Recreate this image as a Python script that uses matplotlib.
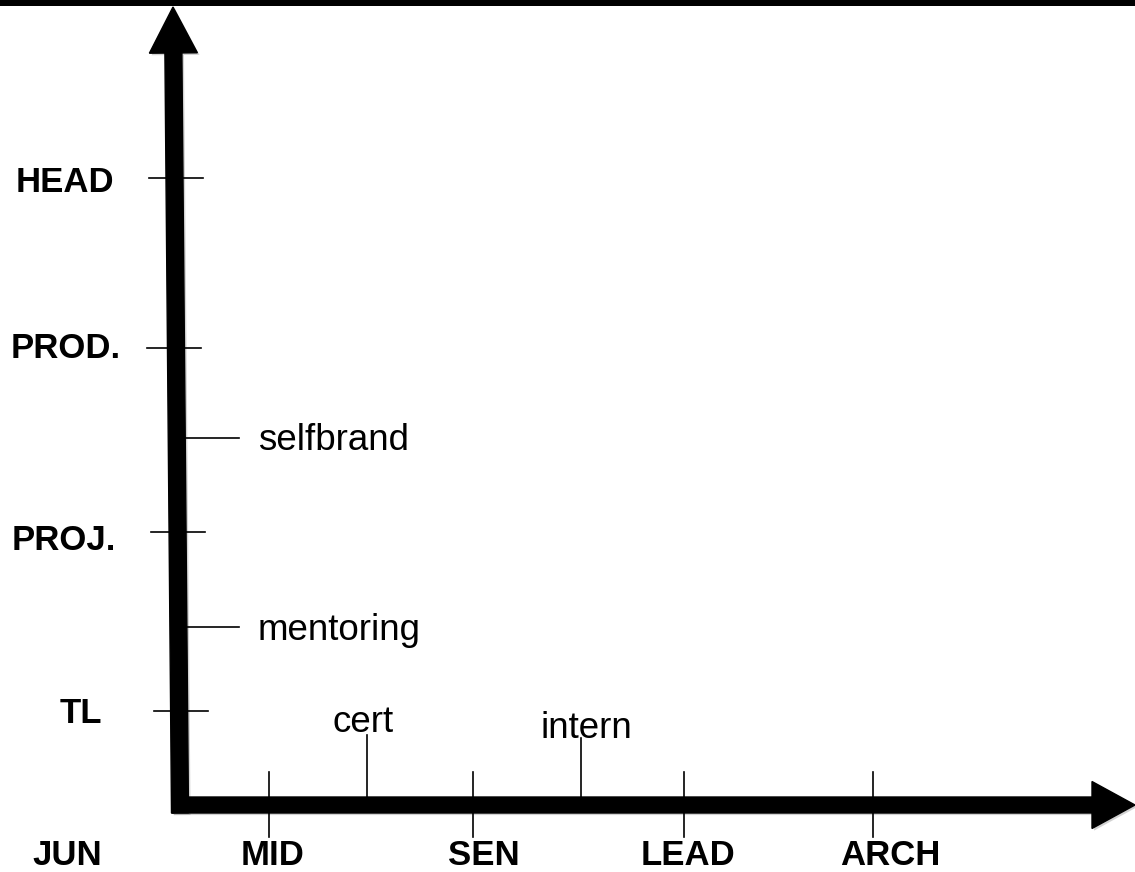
import matplotlib
matplotlib.use("Agg")
import matplotlib.pyplot as plt
import matplotlib.patheffects as pe

# career ladder: horizontal = seniority, vertical = management track
x_levels = ["JUN", "MID", "SEN", "LEAD", "ARCH"]
x_label_pos = [-113, 93, 304, 508, 710]
x_tick_pos = [89, 293, 504, 693]          # ticks for MID..ARCH

x_events = ["cert", "intern"]
x_event_pos = [187, 401]
x_event_top = [70, 67]
x_event_text = [183, 406]
x_event_base = [73, 67]

y_levels = ["TL", "PROJ.", "PROD.", "HEAD"]
y_tick_pos = [94, 273, 457, 627]
y_tick_center = [0.5, -2, -6.5, -4.5]
y_label_x = [-99, -116.5, -114, -115]
y_label_base = [82, 255, 447, 613]

y_events = ["selfbrand", "mentoring"]
y_event_pos = [367, 178]
y_event_base = [355, 165]

bold = dict(family=["Liberation Sans", "DejaVu Sans"], fontsize=25, fontweight="bold")
regular = dict(family=["Liberation Sans", "DejaVu Sans"], fontsize=26.5)
shadow = [pe.SimplePatchShadow(offset=(1.5, -1.5), shadow_rgbFace="gray", alpha=0.35), pe.Normal()]

fig = plt.figure(figsize=(11.35, 8.72), dpi=100)
ax = fig.add_axes([0, 0, 1, 1])
ax.set_xlim(-180, 955)
ax.set_ylim(-67, 805)
ax.axis("off")

# black strip along the top edge
ax.axhspan(799, 810, color="black", lw=0)

# axes arrows
ax.arrow(0, -8, -7, 806, width=17, head_width=48, head_length=46,
         length_includes_head=True, color="black", path_effects=shadow)
ax.arrow(-8, 0, 963, 0, width=16, head_width=47, head_length=43,
         length_includes_head=True, color="black", path_effects=shadow)

# x level ticks and labels
for x in x_tick_pos:
    ax.plot([x, x], [33, -32], color="black", lw=1.2)
for name, x in zip(x_levels, x_label_pos):
    ax.text(x, -60, name, ha="center", va="baseline", **bold)

# x events
for name, x, top, tx, base in zip(x_events, x_event_pos, x_event_top, x_event_text, x_event_base):
    ax.plot([x, x], [8, top], color="black", lw=1.2)
    ax.text(tx, base, name, ha="center", va="baseline", **regular)

# y level ticks and labels
for y, c in zip(y_tick_pos, y_tick_center):
    ax.plot([c - 27, c + 27], [y, y], color="black", lw=1.2)
for name, x, base in zip(y_levels, y_label_x, y_label_base):
    ax.text(x, base, name, ha="center", va="baseline", **bold)

# y events
for name, y, base in zip(y_events, y_event_pos, y_event_base):
    ax.plot([6, 59], [y, y], color="black", lw=1.2)
    ax.text(78, base, name, ha="left", va="baseline", **regular)

fig.savefig("out.png", dpi=100)
